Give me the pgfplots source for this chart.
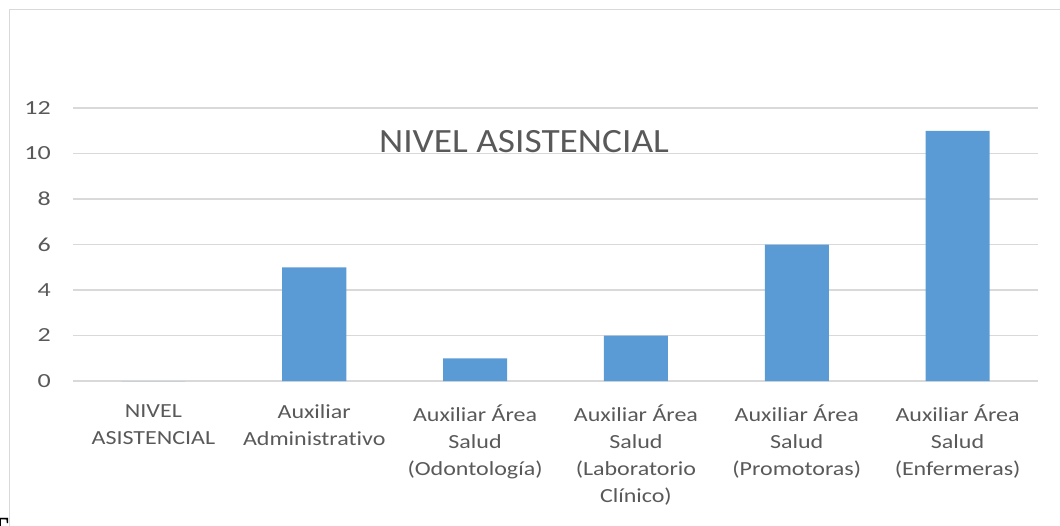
\documentclass[border=0pt]{standalone}
\usepackage{pgfplots}
\pgfplotsset{compat=1.18}
\usepackage{fontspec}
\setmainfont{Carlito}[Ligatures=NoCommon]
\newfontfamily\lblfont[FakeStretch=1.2,Ligatures=NoCommon]{Carlito}
\newfontfamily\numfont[FakeStretch=1.3]{Carlito}
\newfontfamily\ttlfont[FakeStretch=1.1,Ligatures=NoCommon]{Carlito}
\newfontfamily\serfont{Liberation Serif}
\definecolor{barblue}{HTML}{5B9BD5}
\definecolor{gridgray}{HTML}{D9D9D9}
\definecolor{txtgray}{HTML}{595959}
\begin{document}
\begin{tikzpicture}[x=0.75pt,y=0.75pt]
\begin{axis}[
  scale only axis,
  width=723.75pt, height=204.75pt,
  xmin=-0.5, xmax=5.5,
  ymin=0, ymax=12,
  ytick={0,2,...,12},
  xtick={0,...,5},
  xticklabels={
    {NIVEL\\ASISTENCIAL},
    {Auxiliar\\Administrativo},
    {Auxiliar Área\\Salud\\(Odontología)},
    {Auxiliar Área\\Salud\\(Laboratorio\\Clínico)},
    {Auxiliar Área\\Salud\\(Promotoras)},
    {Auxiliar Área\\Salud\\(Enfermeras)}},
  axis line style={draw=none},
  major tick length=0pt,
  ymajorgrids,
  grid style={gridgray, line width=1.1pt},
  /pgf/number format/assume math mode=true,
  yticklabel style={inner sep=0pt, anchor=east, xshift=-16.5pt, text=txtgray, font=\numfont\fontsize{15}{18}\selectfont},
  xticklabel style={inner sep=0pt, anchor=north, yshift=-17.5pt, align=center, text=txtgray, font=\lblfont\fontsize{15}{20.25}\selectfont},
  clip=false,
]
\addplot[ybar, bar width=48pt, fill=barblue, draw=none] coordinates {
  (0,0) (1,5) (2,1) (3,2) (4,6) (5,11)
};
\coordinate (A) at (rel axis cs:0,0);
\end{axis}
\begin{scope}[shift={(A)}]
\draw[gridgray, line width=1.2pt] (-63.5,-170) -- (-63.5,371.5) -- (1000,371.5);
\node[anchor=base, inner sep=0pt, text=txtgray, font=\ttlfont\fontsize{25.5}{30}\selectfont] at (451,228) {NIVEL ASISTENCIAL};
\node[anchor=north east, inner sep=0pt, text=black, font=\serfont\bfseries\fontsize{22}{24}\selectfont] at (-64,-137) {T};
\end{scope}
\pgfresetboundingbox
\path[use as bounding box] (A) ++(-73,-144) rectangle ++(1060,525);
\end{tikzpicture}
\end{document}
